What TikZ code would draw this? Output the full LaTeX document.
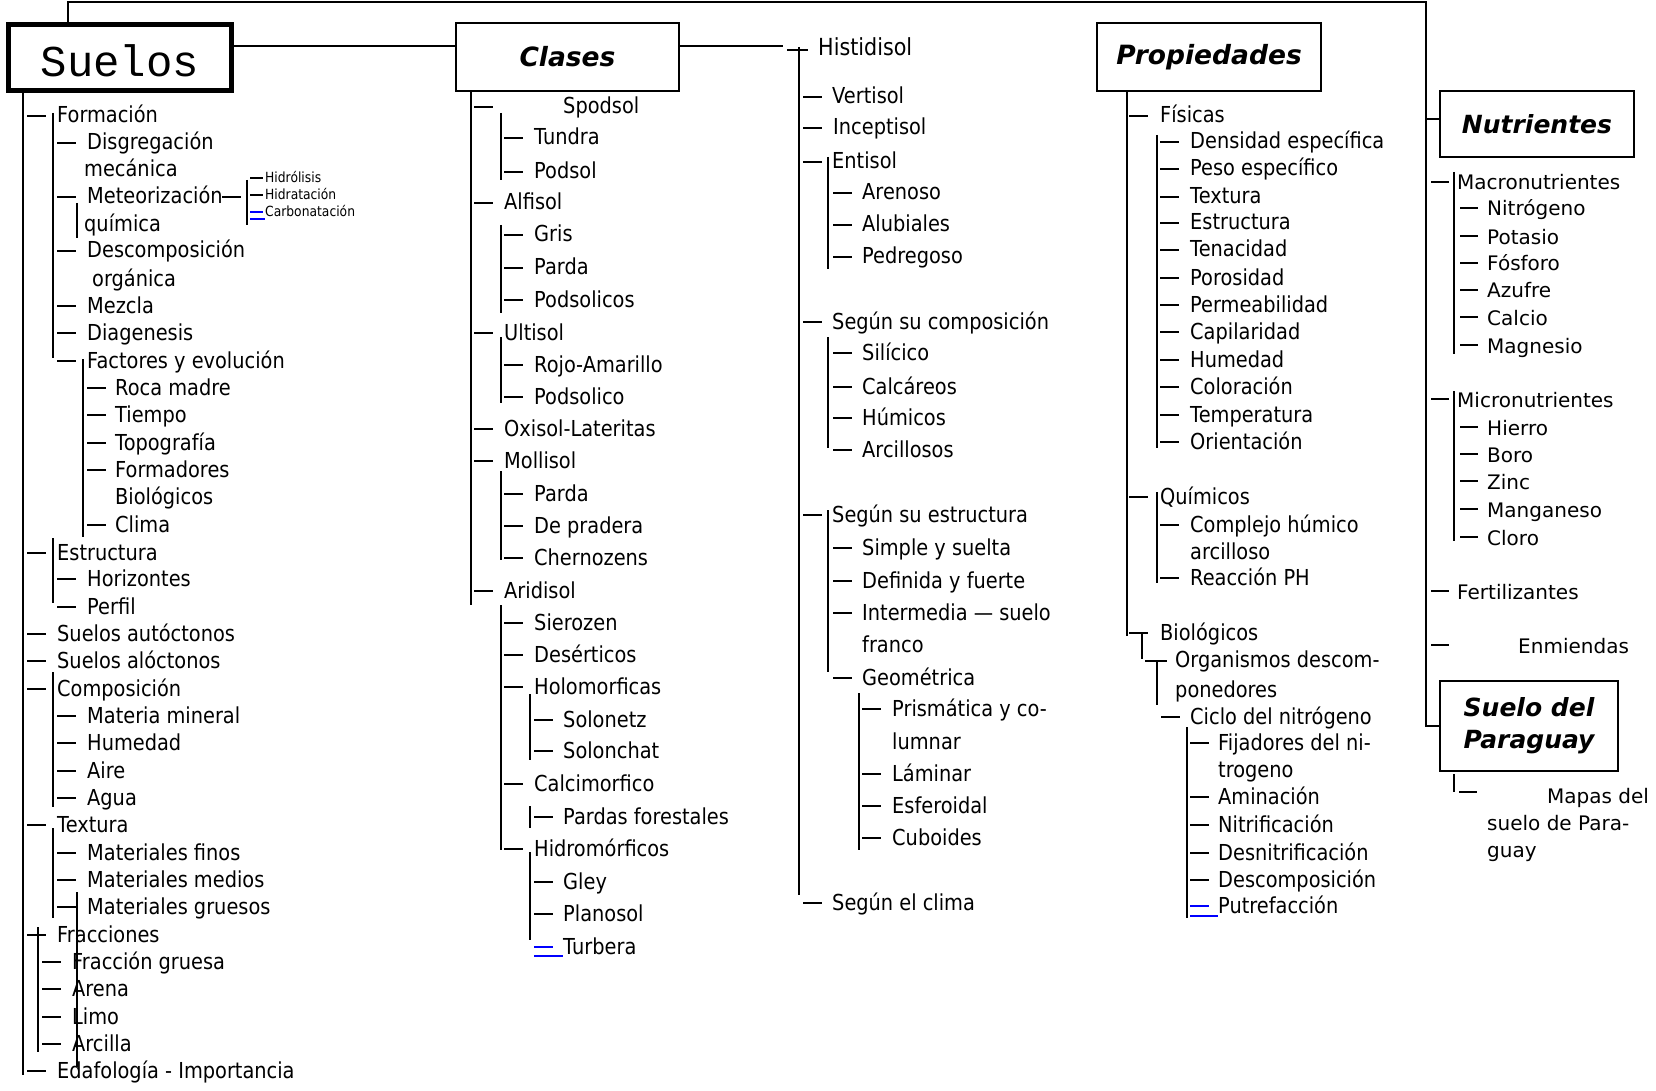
\documentclass[tikz,border=0pt]{standalone}
\usepackage{fontspec}
\setmainfont{DejaVu Sans}[FakeStretch=0.88]
\newfontfamily\navfont{DejaVu Sans}
\newfontfamily\boxmono{Liberation Mono}

\tikzset{
  leaf/.style={anchor=base west, inner sep=0pt, yshift=-7pt, font=\fontsize{22}{26}\selectfont},
  nleafstyle/.style={anchor=base west, inner sep=0pt, yshift=-8pt, font=\navfont\fontsize{20}{24}\selectfont},
  sleafstyle/.style={anchor=base west, inner sep=0pt, yshift=-5pt, font=\fontsize{14}{16}\selectfont},
  twig/.style={line width=1.5pt},
  thintwig/.style={line width=1.5pt},
  stem/.style={line width=1.8pt},
  linkdash/.style={line width=1.3pt, blue},
  titlebox/.style={draw, line width=1.3pt, inner sep=0pt, align=center,
    font=\navfont\bfseries\itshape\fontsize{25}{32}\selectfont},
  bigtitle/.style={font=\navfont\bfseries\itshape\fontsize{26.5}{32}\selectfont},
}

% entry with a dash in front: name, dash x, text x, dash y, text
\newcommand\tleaf[5]{%
  \node[leaf] (#1) at (#3,#4) {#5};
  \draw[twig] (#2,#4) -- ++(19,0);}
% continuation line of a two-line entry
\newcommand\tcont[4]{\node[leaf] (#1) at (#2,#3) {#4};}
% entries of the nutrient column
\newcommand\nleaf[5]{%
  \node[nleafstyle] (#1) at (#3,#4) {#5};
  \draw[thintwig] (#2,#4) -- ++(18,0);}
\newcommand\ncont[4]{\node[nleafstyle] (#1) at (#2,#3) {#4};}
% small entries of the weathering branch
\newcommand\sleaf[5]{%
  \node[sleafstyle] (#1) at (#3,#4) {#5};
  \draw[thintwig] (#2,#4) -- ++(13,0);}
% vertical stem
\newcommand\vstem[3]{\draw[stem] (#1,#2) -- (#1,#3);}

\begin{document}
\begin{tikzpicture}[x=1pt,y=-1pt]
\useasboundingbox (0,0) rectangle (1656,1091);

% ---------- title boxes ----------
\node[draw, line width=5pt, minimum width=223pt, minimum height=66pt, inner sep=0pt] (suelos) at (120,57.5) {};
\node[font=\boxmono\fontsize{44}{44}\selectfont, inner sep=0pt] (suelostxt) at (120,61) {Suelos};
\node[titlebox, bigtitle, minimum width=223pt, minimum height=68pt] (clases) at (567.5,57) {Clases};
\node[titlebox, bigtitle, minimum width=224pt, minimum height=68pt] (propiedades) at (1209,57) {Propiedades};
\node[titlebox, minimum width=194pt, minimum height=66pt] (nutri) at (1537,124) {Nutrientes};
\node[titlebox, minimum width=178pt, minimum height=90pt] (suelopy) at (1529,726) {Suelo del\\Paraguay};

% ---------- links between the boxes ----------
\coordinate (hub) at (783,46);
\coordinate (railL) at (68,2);
\coordinate (railR) at (1426,2);
\coordinate (nutrijoin) at ([yshift=5pt]nutri.west);
\draw[twig] (suelos.east |- hub) -- (clases.west |- hub);
\draw[twig] (clases.east |- hub) -- (hub);
\draw[stem] (suelos.north -| railL) -- (railL) -- (railR) -- (railR |- suelopy.west) -- (suelopy.west);
\draw[stem] (nutrijoin -| railR) -- (nutrijoin);

% ---------- column: Suelos ----------
\coordinate (c1top) at (23,0);
\draw[stem] (suelos.south -| c1top) -- (23,1075);
\tleaf{formacion}{27}{57}{116}{Formación}
\tleaf{disgreg}{57}{87}{143}{Disgregación}
\tcont{disgreg2}{84}{170}{mecánica}
\tleaf{meteo}{57}{87}{197}{Meteorización}
\tcont{meteo2}{84}{225}{química}
\tleaf{descomp}{57}{87}{251}{Descomposición}
\tcont{descomp2}{92}{279}{orgánica}
\tleaf{mezcla}{57}{87}{306}{Mezcla}
\tleaf{diagen}{57}{87}{333}{Diagenesis}
\tleaf{factores}{57}{87}{361}{Factores y evolución}
\tleaf{roca}{87}{115}{388}{Roca madre}
\tleaf{tiempo}{87}{115}{415}{Tiempo}
\tleaf{topo}{87}{115}{443}{Topografía}
\tleaf{formad}{87}{115}{470}{Formadores}
\tcont{formad2}{115}{497}{Biológicos}
\tleaf{clima}{87}{115}{525}{Clima}
\tleaf{estruct}{27}{57}{553}{Estructura}
\tleaf{horiz}{57}{87}{579}{Horizontes}
\tleaf{perfil}{57}{87}{607}{Perfil}
\tleaf{autoc}{27}{57}{634}{Suelos autóctonos}
\tleaf{aloc}{27}{57}{661}{Suelos alóctonos}
\tleaf{compos}{27}{57}{689}{Composición}
\tleaf{matmin}{57}{87}{716}{Materia mineral}
\tleaf{humedad}{57}{87}{743}{Humedad}
\tleaf{aire}{57}{87}{771}{Aire}
\tleaf{agua}{57}{87}{798}{Agua}
\tleaf{textura}{27}{57}{825}{Textura}
\tleaf{finos}{57}{87}{853}{Materiales finos}
\tleaf{medios}{57}{87}{880}{Materiales medios}
\tleaf{gruesos}{57}{87}{907}{Materiales gruesos}
\tleaf{fracc}{27}{57}{935}{Fracciones}
\tleaf{fgruesa}{42}{72}{962}{Fracción gruesa}
\tleaf{arena}{42}{72}{989}{Arena}
\tleaf{limo}{42}{72}{1017}{Limo}
\tleaf{arcilla}{42}{72}{1044}{Arcilla}
\tleaf{edafo}{27}{57}{1071}{Edafología - Importancia}
\vstem{53}{113}{358}
\vstem{53}{538}{603}
\vstem{53}{672}{807}
\vstem{53}{828}{918}
\vstem{83}{359}{537}
\vstem{77}{203}{238}
\vstem{77}{892}{1067}
\vstem{38}{927}{1052}
% weathering sub-branch
\draw[twig] (222,197) -- (241,197);
\vstem{247}{180}{225}
\sleaf{hidrol}{250}{265}{178}{Hidrólisis}
\sleaf{hidrat}{250}{265}{195}{Hidratación}
\node[sleafstyle] (carbon) at (265,212) {Carbonatación};
\draw[linkdash] (250,212) -- ++(13,0);
\draw[linkdash] (250,219) -- (carbon.west |- 0,219);

% ---------- column: Clases ----------
\draw[stem] (clases.south -| 471,0) -- (471,605);
\tleaf{spodsol}{474}{563}{107}{Spodsol}
\tleaf{tundra}{504}{534}{138}{Tundra}
\tleaf{podsol}{504}{534}{172}{Podsol}
\tleaf{alfisol}{474}{504}{203}{Alfisol}
\tleaf{gris}{504}{534}{235}{Gris}
\tleaf{parda}{504}{534}{268}{Parda}
\tleaf{podsolicos}{504}{534}{300}{Podsolicos}
\tleaf{ultisol}{474}{504}{333}{Ultisol}
\tleaf{rojo}{504}{534}{365}{Rojo-Amarillo}
\tleaf{podsolico}{504}{534}{397}{Podsolico}
\tleaf{oxisol}{474}{504}{429}{Oxisol-Lateritas}
\tleaf{mollisol}{474}{504}{461}{Mollisol}
\tleaf{pardab}{504}{534}{494}{Parda}
\tleaf{pradera}{504}{534}{526}{De pradera}
\tleaf{chern}{504}{534}{558}{Chernozens}
\tleaf{aridisol}{474}{504}{591}{Aridisol}
\tleaf{sierozen}{504}{534}{623}{Sierozen}
\tleaf{desert}{504}{534}{655}{Desérticos}
\tleaf{holomorf}{504}{534}{687}{Holomorficas}
\tleaf{solonetz}{534}{563}{720}{Solonetz}
\tleaf{solonchat}{534}{563}{751}{Solonchat}
\tleaf{calcim}{504}{534}{784}{Calcimorfico}
\tleaf{pardasf}{534}{563}{817}{Pardas forestales}
\tleaf{hidrom}{504}{534}{849}{Hidromórficos}
\tleaf{gley}{534}{563}{882}{Gley}
\tleaf{planosol}{534}{563}{914}{Planosol}
\node[leaf] (turbera) at (563,947) {Turbera};
\draw[linkdash] (534,947) -- ++(19,0);
\draw[linkdash] (534,956) -- (turbera.west |- 0,956);
\vstem{501}{113}{180}
\vstem{501}{225}{313}
\vstem{501}{337}{403}
\vstem{501}{471}{560}
\vstem{501}{605}{850}
\vstem{530}{694}{760}
\vstem{530}{806}{828}
\vstem{530}{852}{940}

% ---------- column: Histidisol ... ----------
\node[leaf, font=\fontsize{23.5}{26}\selectfont] (histi) at (818,49) {Histidisol};
\draw[twig] (787,50) -- (808,50);
\vstem{799}{47}{895}
\tleaf{vertisol}{803}{832}{97}{Vertisol}
\tleaf{incept}{803}{833}{128}{Inceptisol}
\tleaf{entisol}{803}{832}{162}{Entisol}
\tleaf{arenoso}{833}{862}{193}{Arenoso}
\tleaf{alub}{833}{862}{225}{Alubiales}
\tleaf{pedreg}{833}{862}{257}{Pedregoso}
\tleaf{scomp}{803}{832}{322}{Según su composición}
\tleaf{silic}{833}{862}{353}{Silícico}
\tleaf{calcar}{833}{862}{387}{Calcáreos}
\tleaf{humic}{833}{862}{418}{Húmicos}
\tleaf{arcillosos}{833}{862}{450}{Arcillosos}
\tleaf{sestr}{803}{832}{515}{Según su estructura}
\tleaf{simple}{833}{862}{548}{Simple y suelta}
\tleaf{definida}{833}{862}{581}{Definida y fuerte}
\tleaf{intermedia}{833}{862}{613}{Intermedia — suelo}
\tcont{intermedia2}{862}{645}{franco}
\tleaf{geom}{833}{862}{678}{Geométrica}
\tleaf{prism}{862}{892}{709}{Prismática y co-}
\tcont{prism2}{892}{742}{lumnar}
\tleaf{laminar}{862}{892}{774}{Láminar}
\tleaf{esfer}{862}{892}{806}{Esferoidal}
\tleaf{cuboid}{862}{892}{838}{Cuboides}
\tleaf{sclima}{803}{832}{903}{Según el clima}
\vstem{828}{157}{269}
\vstem{828}{337}{448}
\vstem{828}{510}{672}
\vstem{859}{693}{850}

% ---------- column: Propiedades ----------
\draw[stem] (propiedades.south -| 1127,0) -- (1127,636);
\tleaf{fisicas}{1129}{1160}{116}{Físicas}
\tleaf{densidad}{1160}{1190}{142}{Densidad específica}
\tleaf{peso}{1160}{1190}{169}{Peso específico}
\tleaf{texturab}{1160}{1190}{197}{Textura}
\tleaf{estructb}{1160}{1190}{223}{Estructura}
\tleaf{tenac}{1160}{1190}{250}{Tenacidad}
\tleaf{poros}{1160}{1190}{278}{Porosidad}
\tleaf{permeab}{1160}{1190}{305}{Permeabilidad}
\tleaf{capil}{1160}{1190}{332}{Capilaridad}
\tleaf{humedadb}{1160}{1190}{360}{Humedad}
\tleaf{color}{1160}{1190}{387}{Coloración}
\tleaf{temper}{1160}{1190}{415}{Temperatura}
\tleaf{orient}{1160}{1190}{442}{Orientación}
\vstem{1157}{135}{448}
\tleaf{quimicos}{1129}{1160}{497}{Químicos}
\tleaf{complejo}{1160}{1190}{525}{Complejo húmico}
\tcont{complejo2}{1190}{552}{arcilloso}
\tleaf{reaccion}{1160}{1190}{578}{Reacción PH}
\vstem{1157}{492}{583}
\tleaf{biolog}{1129}{1160}{633}{Biológicos}
\vstem{1142}{633}{659}
\node[leaf] (organ) at (1175,660) {Organismos descom-};
\draw[twig] (1145,661) -- (1167,661);
\vstem{1157}{661}{705}
\tcont{organ2}{1175}{690}{ponedores}
\tleaf{ciclo}{1161}{1190}{717}{Ciclo del nitrógeno}
\vstem{1187}{727}{918}
\tleaf{fijad}{1190}{1218}{743}{Fijadores del ni-}
\tcont{fijad2}{1218}{770}{trogeno}
\tleaf{aminac}{1190}{1218}{797}{Aminación}
\tleaf{nitrif}{1190}{1218}{825}{Nitrificación}
\tleaf{desnitr}{1190}{1218}{853}{Desnitrificación}
\tleaf{descompb}{1190}{1218}{880}{Descomposición}
\node[leaf] (putref) at (1218,906) {Putrefacción};
\draw[linkdash] (1190,906) -- ++(19,0);
\draw[linkdash] (1190,916) -- (putref.west |- 0,916);

% ---------- column: Nutrientes ----------
\nleaf{macro}{1431}{1457}{182}{Macronutrientes}
\nleaf{nitro}{1460}{1487}{208}{Nitrógeno}
\nleaf{potasio}{1460}{1487}{236}{Potasio}
\nleaf{fosforo}{1460}{1487}{263}{Fósforo}
\nleaf{azufre}{1460}{1487}{290}{Azufre}
\nleaf{calcio}{1460}{1487}{317}{Calcio}
\nleaf{magnesio}{1460}{1487}{345}{Magnesio}
\vstem{1454}{172}{354}
\nleaf{micro}{1431}{1457}{399}{Micronutrientes}
\nleaf{hierro}{1460}{1487}{427}{Hierro}
\nleaf{boro}{1460}{1487}{454}{Boro}
\nleaf{zinc}{1460}{1487}{481}{Zinc}
\nleaf{mangan}{1460}{1487}{509}{Manganeso}
\nleaf{cloro}{1460}{1487}{537}{Cloro}
\vstem{1454}{391}{541}
\nleaf{fertil}{1431}{1457}{591}{Fertilizantes}
\nleaf{enmiendas}{1431}{1518}{645}{Enmiendas}
% maps below the Paraguay box
\draw[thintwig] (1454,774) -- (1454,792);
\draw[thintwig] (1459,792) -- (1477,792);
\ncont{mapas}{1547}{795}{Mapas del}
\ncont{mapas2}{1487}{822}{suelo de Para-}
\ncont{mapas3}{1487}{849}{guay}
\end{tikzpicture}
\end{document}
